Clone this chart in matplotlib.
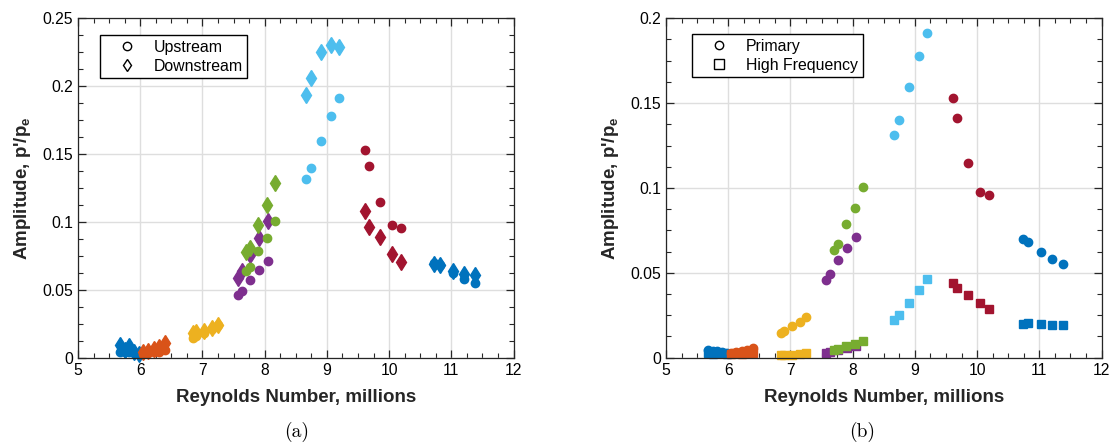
import numpy as np
import matplotlib
matplotlib.use('Agg')
import matplotlib.pyplot as plt
from matplotlib.lines import Line2D
from matplotlib.ticker import MultipleLocator, FuncFormatter

plt.rcParams['font.family'] = ['Liberation Sans', 'DejaVu Sans']
plt.rcParams['mathtext.fontset'] = 'custom'
plt.rcParams['mathtext.rm'] = 'Liberation Sans'
plt.rcParams['mathtext.bf'] = 'Liberation Sans:bold'
plt.rcParams['mathtext.it'] = 'Liberation Sans:italic'

# Reynolds number (millions) of each run group
re_blue_low = [5.68, 5.75, 5.82, 5.90, 5.98]
re_orange = [6.05, 6.13, 6.22, 6.30, 6.40]
re_yellow = [6.85, 6.90, 7.03, 7.16, 7.25]
re_purple = [7.57, 7.64, 7.77, 7.91, 8.05]
re_green = [7.70, 7.77, 7.90, 8.04, 8.17]
re_lightblue = [8.67, 8.74, 8.90, 9.06, 9.19]
re_red = [9.61, 9.68, 9.86, 10.04, 10.19]
re_blue_high = [10.73, 10.82, 11.02, 11.20, 11.38]

# upstream sensor amplitude (same as primary mode)
up_blue_low = [0.0045, 0.0040, 0.0040, 0.0035, 0.0030]
up_orange = [0.0030, 0.0035, 0.0040, 0.0045, 0.0060]
up_yellow = [0.0144, 0.0157, 0.0185, 0.0212, 0.0238]
up_purple = [0.0460, 0.0491, 0.0575, 0.0644, 0.0711]
up_green = [0.0636, 0.0668, 0.0787, 0.0882, 0.1005]
up_lightblue = [0.1313, 0.1400, 0.1596, 0.1780, 0.1916]
up_red = [0.1530, 0.1413, 0.1147, 0.0976, 0.0958]
up_blue_high = [0.0699, 0.0681, 0.0622, 0.0581, 0.0550]

# downstream sensor amplitude
dn_blue_low = [0.0095, 0.0060, 0.0085, 0.0040, 0.0030]
dn_orange = [0.0040, 0.0050, 0.0065, 0.0080, 0.0110]
dn_yellow = [0.0184, 0.0192, 0.0197, 0.0217, 0.0241]
dn_purple = [0.0590, 0.0642, 0.0755, 0.0883, 0.1006]
dn_green = [0.0777, 0.0811, 0.0980, 0.1124, 0.1288]
dn_lightblue = [0.1937, 0.2060, 0.2250, 0.2300, 0.2286]
dn_red = [0.1084, 0.0962, 0.0890, 0.0765, 0.0703]
dn_blue_high = [0.0690, 0.0680, 0.0640, 0.0620, 0.0610]

# high frequency mode amplitude
hf_blue_low = [0.0026, 0.0024, 0.0025, 0.0025, 0.0024]
hf_orange = [0.0024, 0.0025, 0.0024, 0.0025, 0.0026]
hf_yellow = [0.0013, 0.0013, 0.0015, 0.0022, 0.0028]
hf_purple = [0.0030, 0.0035, 0.0045, 0.0057, 0.0071]
hf_green = [0.0045, 0.0051, 0.0069, 0.0081, 0.0097]
hf_lightblue = [0.0220, 0.0250, 0.0320, 0.0397, 0.0462]
hf_red = [0.0438, 0.0409, 0.0367, 0.0320, 0.0285]
hf_blue_high = [0.0197, 0.0203, 0.0197, 0.0190, 0.0190]

reynolds = [re_blue_low, re_orange, re_yellow, re_purple, re_green,
            re_lightblue, re_red, re_blue_high]
upstream = [up_blue_low, up_orange, up_yellow, up_purple, up_green,
            up_lightblue, up_red, up_blue_high]
downstream = [dn_blue_low, dn_orange, dn_yellow, dn_purple, dn_green,
              dn_lightblue, dn_red, dn_blue_high]
high_freq = [hf_blue_low, hf_orange, hf_yellow, hf_purple, hf_green,
             hf_lightblue, hf_red, hf_blue_high]

# MATLAB default line colours
colors = ['#0072BD', '#D95319', '#EDB120', '#7E2F8E', '#77AC30',
          '#4DBEEE', '#A2142F', '#0072BD']

axis_color = '#262626'


def style_axes(ax, ymax):
    ax.set_xlim(5, 12)
    ax.set_ylim(0, ymax)
    ax.xaxis.set_major_locator(MultipleLocator(1))
    ax.xaxis.set_minor_locator(MultipleLocator(0.25))
    ax.yaxis.set_major_locator(MultipleLocator(0.05))
    ax.yaxis.set_minor_locator(MultipleLocator(0.0125))
    ax.yaxis.set_major_formatter(FuncFormatter(lambda v, p: '%g' % round(v, 4)))
    ax.tick_params(which='both', direction='in', top=True, right=True,
                   colors=axis_color, labelcolor='black', labelsize=11.3)
    ax.tick_params(which='major', length=6, width=0.9)
    ax.tick_params(which='minor', length=3.5, width=0.8)
    for s in ax.spines.values():
        s.set_color(axis_color)
        s.set_linewidth(0.9)
    ax.grid(True, which='major', color='#dedede', linewidth=1.0)
    ax.set_axisbelow(True)
    ax.set_xlabel('Reynolds Number, millions', fontsize=13.5,
                  fontweight='bold', color='#262626', labelpad=8)
    ax.set_ylabel(r"Amplitude, p'/p$_\mathbf{e}$", fontsize=13.5,
                  fontweight='bold', color='#262626', labelpad=7)


def add_legend(ax, marker, labels, anchor):
    handles = [Line2D([], [], ls='none', marker='o', ms=6, mfc='white',
                      mec='black'),
               Line2D([], [], ls='none', marker=marker, ms=6.5, mfc='white',
                      mec='black')]
    ax.legend(handles, labels, loc='upper left', bbox_to_anchor=anchor,
              borderaxespad=0, fancybox=False, edgecolor='black',
              framealpha=1, fontsize=11.4, handletextpad=0.3,
              borderpad=0.3, labelspacing=0.25, handlelength=2.8)


fig = plt.figure(figsize=(11.12, 4.47), dpi=100)
ax1 = fig.add_axes([0.0701, 0.1998, 0.3917, 0.7593])
ax2 = fig.add_axes([0.5989, 0.1998, 0.3917, 0.7593])

for re, up, dn, c in zip(reynolds, upstream, downstream, colors):
    ax1.plot(re, up, 'o', ms=6, color=c, mec=c, clip_on=False)
    ax1.plot(re, dn, 'd', ms=8, color=c, mec=c, clip_on=False)

for re, up, hf, c in zip(reynolds, upstream, high_freq, colors):
    ax2.plot(re, up, 'o', ms=6, color=c, mec=c, clip_on=False)
    ax2.plot(re, hf, 's', ms=6.3, color=c, mec=c, clip_on=False)

style_axes(ax1, 0.25)
style_axes(ax2, 0.2)

add_legend(ax1, 'd', ['Upstream', 'Downstream'], (0.05, 0.951))
add_legend(ax2, 's', ['Primary', 'High Frequency'], (0.06, 0.954))

fig.text(0.267, 0.034, '(a)', family='cmr10', fontsize=14,
         ha='center', va='center')
fig.text(0.775, 0.034, '(b)', family='cmr10', fontsize=14,
         ha='center', va='center')

fig.savefig('out.png', dpi=100)
